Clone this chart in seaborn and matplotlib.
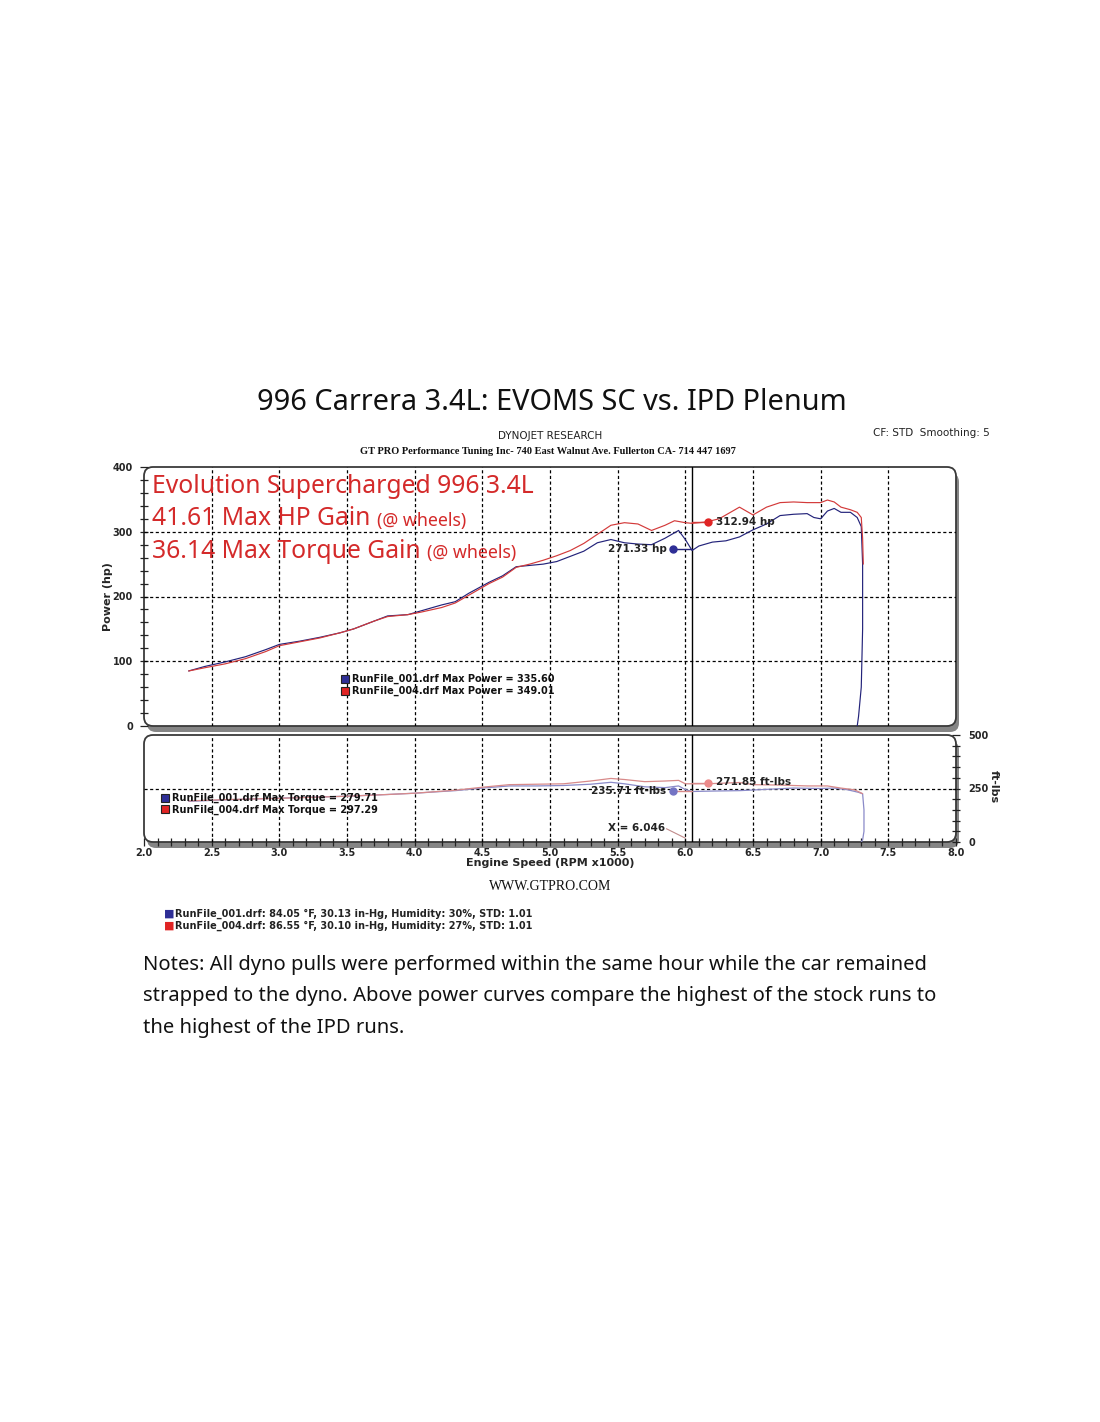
import matplotlib
matplotlib.use("Agg")  # headless rendering
import matplotlib.pyplot as plt
from matplotlib.patches import FancyBboxPatch
from matplotlib.ticker import MultipleLocator
import pandas as pd
import seaborn as sns

# ── power curves (hp) vs engine speed (RPM x1000) ──────────────────────────
rpm_hp_001 = [2.33, 2.45, 2.60, 2.75, 2.90, 3.00, 3.15, 3.30, 3.45, 3.55, 3.70, 3.80,
              3.95, 4.05, 4.20, 4.30, 4.40, 4.55, 4.65, 4.75, 4.85, 4.95, 5.05, 5.15,
              5.25, 5.35, 5.45, 5.55, 5.65, 5.75, 5.85, 5.95, 6.00, 6.05, 6.10, 6.20,
              6.30, 6.40, 6.50, 6.60, 6.70, 6.80, 6.90, 6.95, 7.00, 7.05, 7.10, 7.15,
              7.22, 7.27, 7.30, 7.31, 7.31, 7.30, 7.28, 7.27]
hp_001 = [85, 92, 99, 107, 118, 126, 131, 137, 144, 150, 162, 170,
          172, 178, 187, 192, 205, 222, 232, 246, 248, 250, 254, 262,
          270, 283, 288, 283, 281, 280, 290, 302, 288, 271, 278, 284,
          286, 292, 303, 312, 325, 327, 328, 322, 320, 332, 336, 330,
          330, 322, 308, 250, 150, 60, 15, 0]

rpm_hp_004 = [2.33, 2.45, 2.60, 2.75, 2.90, 3.00, 3.15, 3.30, 3.45, 3.55, 3.70, 3.80,
              3.95, 4.05, 4.20, 4.30, 4.40, 4.55, 4.65, 4.75, 4.85, 4.95, 5.05, 5.15,
              5.25, 5.35, 5.45, 5.55, 5.65, 5.75, 5.85, 5.92, 6.00, 6.05, 6.15, 6.25,
              6.35, 6.40, 6.50, 6.60, 6.70, 6.80, 6.90, 7.00, 7.05, 7.10, 7.15, 7.22,
              7.27, 7.30, 7.31, 7.315]
hp_004 = [85, 90, 96, 104, 115, 124, 130, 136, 144, 150, 162, 169,
          172, 176, 183, 190, 202, 220, 230, 245, 250, 256, 263, 271,
          282, 296, 310, 314, 312, 302, 310, 317, 314, 313, 315, 320,
          332, 338, 326, 338, 345, 346, 345, 345, 349, 346, 338, 334,
          330, 322, 290, 250]

# ── torque curves (ft-lbs) ──────────────────────────────────────────────────
rpm_tq_001 = [2.33, 2.60, 3.00, 3.50, 3.80, 4.00, 4.30, 4.50, 4.70, 4.90, 5.10, 5.30,
              5.45, 5.55, 5.70, 5.85, 5.95, 6.00, 6.05, 6.20, 6.40, 6.60, 6.80, 7.00,
              7.10, 7.20, 7.28, 7.31, 7.32, 7.32, 7.31, 7.30]
tq_001 = [190, 197, 205, 214, 222, 228, 240, 252, 262, 262, 264, 270,
          279, 272, 258, 254, 262, 245, 236, 238, 240, 246, 252, 250,
          252, 244, 232, 225, 150, 50, 10, 0]

rpm_tq_004 = [2.33, 2.60, 3.00, 3.50, 3.80, 4.00, 4.30, 4.50, 4.70, 4.90, 5.10, 5.30,
              5.45, 5.55, 5.70, 5.85, 5.95, 6.00, 6.05, 6.20, 6.40, 6.50, 6.70, 6.90,
              7.05, 7.15, 7.25, 7.29, 7.31]
tq_004 = [192, 198, 204, 214, 222, 228, 242, 256, 268, 270, 272, 285,
          297, 292, 282, 285, 288, 272, 272, 273, 278, 268, 266, 262,
          262, 252, 244, 232, 226]

run_names = ["RunFile_001.drf", "RunFile_004.drf"]
max_power = [335.60, 349.01]
max_torque = [279.71, 297.29]
cursor_rpm = 6.046
cursor_hp = [271.33, 312.94]
cursor_tq = [235.71, 271.85]
weather = ["84.05 °F, 30.13 in-Hg, Humidity: 30%, STD: 1.01",
           "86.55 °F, 30.10 in-Hg, Humidity: 27%, STD: 1.01"]

RUN_COLORS = ["#23237a", "#d33a3a"]
TQ_COLORS = ["#8a8ac8", "#d88a8a"]
DOT_COLORS = ["#2e2e96", "#e02424"]
TQ_DOT_COLORS = ["#7474c4", "#ec8a8a"]
LABEL_RED = "#d42a2a"

W, H = 1100, 1422
sns.set_style("white")
plt.rcParams["font.family"] = ["DejaVu Sans"]


def fx(px):
    return px / W


def fy(py):
    return 1 - py / H


def framed_axes(fig, left, top, right, bottom):
    """Axes with a rounded dyno-style frame and a grey drop shadow (pixel coords)."""
    l, b = left / 100, (H - bottom) / 100
    w, h = (right - left) / 100, (bottom - top) / 100
    shadow = FancyBboxPatch((l + 0.03, b - 0.06), w, h,
                            boxstyle="round,pad=0,rounding_size=0.09",
                            transform=fig.dpi_scale_trans, fc="#858585", ec="none", zorder=-3)
    face = FancyBboxPatch((l, b), w, h, boxstyle="round,pad=0,rounding_size=0.09",
                          transform=fig.dpi_scale_trans, fc="white", ec="#3a3a3a",
                          lw=1.3, zorder=-2)
    fig.add_artist(shadow)
    fig.add_artist(face)
    ax = fig.add_axes([fx(left), fy(bottom), fx(right - left), (bottom - top) / H])
    ax.set_facecolor("none")
    for s in ax.spines.values():
        s.set_visible(False)
    return ax


fig = plt.figure(figsize=(W / 100, H / 100), dpi=100)
fig.patch.set_facecolor("white")

ax_hp = framed_axes(fig, 144, 467, 956, 726)
ax_tq = framed_axes(fig, 144, 735, 956, 842)

grid_kw = dict(color="black", lw=0.9, ls=(0, (2.5, 2)), zorder=1)
tick_font = dict(fontsize=7, fontweight="bold")

# ── power panel ──────────────────────────────────────────────────────────────
for i, (xs, ys) in enumerate([(rpm_hp_001, hp_001), (rpm_hp_004, hp_004)]):
    df = pd.DataFrame({"rpm": xs, "hp": ys})
    sns.lineplot(data=df, x="rpm", y="hp", sort=False, estimator=None,
                 color=RUN_COLORS[i], lw=0.85, ax=ax_hp, zorder=3)

ax_hp.set_xlim(2.0, 8.0)
ax_hp.set_ylim(0, 400)
for x in [2.5, 3.0, 3.5, 4.0, 4.5, 5.0, 5.5, 6.0, 6.5, 7.0, 7.5]:
    ax_hp.axvline(x, **grid_kw)
for y in [100, 200, 300]:
    ax_hp.axhline(y, **grid_kw)
ax_hp.axvline(cursor_rpm, color="black", lw=1.0, zorder=2)
ax_hp.yaxis.set_major_locator(MultipleLocator(100))
ax_hp.yaxis.set_minor_locator(MultipleLocator(20))
ax_hp.set_xticks([])
ax_hp.tick_params(axis="y", which="both", direction="inout", left=True, length=6,
                  width=0.9, color="#222222", pad=5)
ax_hp.set_yticks([0, 100, 200, 300, 400])
ax_hp.set_yticklabels(["0", "100", "200", "300", "400"], **tick_font)
ax_hp.set_xlabel("")
ax_hp.set_ylabel("Power (hp)", fontsize=8, fontweight="bold", labelpad=0)

# cursor read-outs
dot_x_hp = [5.91, 6.17]
for i in range(2):
    ax_hp.plot([dot_x_hp[i], cursor_rpm], [cursor_hp[i] + 1.5, cursor_hp[i] + 1.5],
               color=RUN_COLORS[i], lw=1.0, zorder=4)
    ax_hp.plot(dot_x_hp[i], cursor_hp[i] + 1.5, "o", ms=5, color=DOT_COLORS[i], zorder=5)
ax_hp.text(5.86, cursor_hp[0] + 1.5, f"{cursor_hp[0]:.2f} hp", ha="right", va="center",
           fontsize=7.5, fontweight="bold", color="#222222", zorder=6)
ax_hp.text(6.23, cursor_hp[1] + 1.5, f"{cursor_hp[1]:.2f} hp", ha="left", va="center",
           fontsize=7.5, fontweight="bold", color="#222222", zorder=6)

# max power legend
for i, yy in enumerate([0.183, 0.136]):
    ax_hp.plot(0.2475, yy, "s", ms=6, mfc=DOT_COLORS[i], mec="#222222", mew=0.8,
               transform=ax_hp.transAxes, clip_on=False, zorder=6)
    ax_hp.text(0.256, yy, f"{run_names[i]} Max Power = {max_power[i]:.2f}",
               transform=ax_hp.transAxes, ha="left", va="center", fontsize=7,
               fontweight="bold", color="#111111", zorder=6)

# overlay headline
head_font = dict(family=["Noto Sans", "DejaVu Sans"], color=LABEL_RED)
ax_hp.text(0.0095, 0.925, "Evolution Supercharged 996 3.4L", transform=ax_hp.transAxes,
           ha="left", va="center", fontsize=17.8, zorder=6, **head_font)
lines = [("41.61 Max HP Gain", 0.800), ("36.14 Max Torque Gain", 0.674)]
for txt, yy in lines:
    t = ax_hp.text(0.0095, yy, txt, transform=ax_hp.transAxes, ha="left", va="center",
                   fontsize=17.8, zorder=6, **head_font)
    ax_hp.annotate("(@ wheels)", xy=(1, 0.06), xycoords=t, xytext=(5, 0),
                   textcoords="offset points", ha="left", va="bottom",
                   fontsize=12.8, zorder=6, **head_font)

# ── torque panel ─────────────────────────────────────────────────────────────
for i, (xs, ys) in enumerate([(rpm_tq_001, tq_001), (rpm_tq_004, tq_004)]):
    df = pd.DataFrame({"rpm": xs, "tq": ys})
    sns.lineplot(data=df, x="rpm", y="tq", sort=False, estimator=None,
                 color=TQ_COLORS[i], lw=0.9, ax=ax_tq, zorder=3)

ax_tq.set_xlim(2.0, 8.0)
ax_tq.set_ylim(0, 500)
for x in [2.5, 3.0, 3.5, 4.0, 4.5, 5.0, 5.5, 6.0, 6.5, 7.0, 7.5]:
    ax_tq.axvline(x, **grid_kw)
ax_tq.axhline(250, **grid_kw)
ax_tq.axvline(cursor_rpm, color="black", lw=1.0, zorder=2)

ax_tq.yaxis.tick_right()
ax_tq.yaxis.set_major_locator(MultipleLocator(250))
ax_tq.yaxis.set_minor_locator(MultipleLocator(50))
ax_tq.tick_params(axis="y", which="both", direction="inout", right=True, left=False,
                  length=6, width=0.9, color="#222222", pad=6)
ax_tq.set_yticks([0, 250, 500])
ax_tq.set_yticklabels(["0", "250", "500"], **tick_font)
ax_tq.xaxis.set_major_locator(MultipleLocator(0.5))
ax_tq.xaxis.set_minor_locator(MultipleLocator(0.1))
ax_tq.tick_params(axis="x", which="both", direction="inout", bottom=True, length=6,
                  width=0.9, color="#222222", pad=1)
ax_tq.set_xticks([2.0 + 0.5 * k for k in range(13)])
ax_tq.set_xticklabels([f"{2.0 + 0.5 * k:.1f}" for k in range(13)], **tick_font)
ax_tq.set_xlabel("Engine Speed (RPM x1000)", fontsize=8, fontweight="bold", labelpad=0)
ax_tq.set_ylabel("")

dot_x_tq = [5.91, 6.17]
for i in range(2):
    ax_tq.plot([dot_x_tq[i], cursor_rpm], [cursor_tq[i] + 3, cursor_tq[i] + 3],
               color=TQ_COLORS[1], lw=1.0, zorder=4)
    ax_tq.plot(dot_x_tq[i], cursor_tq[i] + 3, "o", ms=5, color=TQ_DOT_COLORS[i], zorder=5)
ax_tq.text(5.86, cursor_tq[0] + 3, f"{cursor_tq[0]:.2f} ft-lbs", ha="right", va="center",
           fontsize=7.5, fontweight="bold", color="#222222", zorder=6)
ax_tq.text(6.23, cursor_tq[1] + 8, f"{cursor_tq[1]:.2f} ft-lbs", ha="left", va="center",
           fontsize=7.5, fontweight="bold", color="#222222", zorder=6)
ax_tq.text(5.85, 65, f"X = {cursor_rpm:.3f}", ha="right", va="center",
           fontsize=7.5, fontweight="bold", color="#222222", zorder=6)
ax_tq.plot([5.86, 6.0], [62, 18], color="#c08a8a", lw=0.8, zorder=4)

for i, yy in enumerate([0.414, 0.304]):
    ax_tq.plot(0.026, yy, "s", ms=6, mfc=DOT_COLORS[i], mec="#222222", mew=0.8,
               transform=ax_tq.transAxes, clip_on=False, zorder=6)
    ax_tq.text(0.0345, yy, f"{run_names[i]} Max Torque = {max_torque[i]:.2f}",
               transform=ax_tq.transAxes, ha="left", va="center", fontsize=7,
               fontweight="bold", color="#111111", zorder=6)

fig.text(fx(994), fy(787), "ft-lbs", rotation=270, ha="center", va="center",
         fontsize=8, fontweight="bold")

# ── header / footer text ─────────────────────────────────────────────────────
fig.text(fx(552), fy(402), "996 Carrera 3.4L: EVOMS SC vs. IPD Plenum", ha="center",
         va="center", fontsize=20.8, family=["Noto Sans", "DejaVu Sans"], color="#111111")
fig.text(fx(550), fy(436), "DYNOJET RESEARCH", ha="center", va="center", fontsize=7.5,
         color="#222222")
fig.text(fx(548), fy(452),
         "GT PRO Performance Tuning Inc- 740 East Walnut Ave. Fullerton CA- 714 447 1697",
         ha="center", va="center", fontsize=7.5, fontweight="bold",
         family=["Liberation Serif", "DejaVu Serif"], color="#111111")
fig.text(fx(990), fy(433), "CF: STD  Smoothing: 5", ha="right", va="center",
         fontsize=7.5, color="#222222")
fig.text(fx(550), fy(887), "WWW.GTPRO.COM", ha="center", va="center", fontsize=10,
         family=["Liberation Serif", "DejaVu Serif"], color="#111111")

for i, py in enumerate([914, 926]):
    fig.text(fx(169), fy(py), "\u25A0", ha="center", va="center", fontsize=8,
             color=DOT_COLORS[i])
    fig.text(fx(175), fy(py), f"{run_names[i]}: {weather[i]}", ha="left", va="center",
             fontsize=7, fontweight="bold", color="#222222")

notes = ["Notes: All dyno pulls were performed within the same hour while the car remained",
         "strapped to the dyno. Above power curves compare the highest of the stock runs to",
         "the highest of the IPD runs."]
for k, line in enumerate(notes):
    fig.text(fx(143), fy(965 + 31.5 * k), line, ha="left", va="center", fontsize=14.5,
             family=["Noto Sans", "DejaVu Sans"], color="#111111")

fig.savefig("out.png", dpi=100)
plt.close(fig)
